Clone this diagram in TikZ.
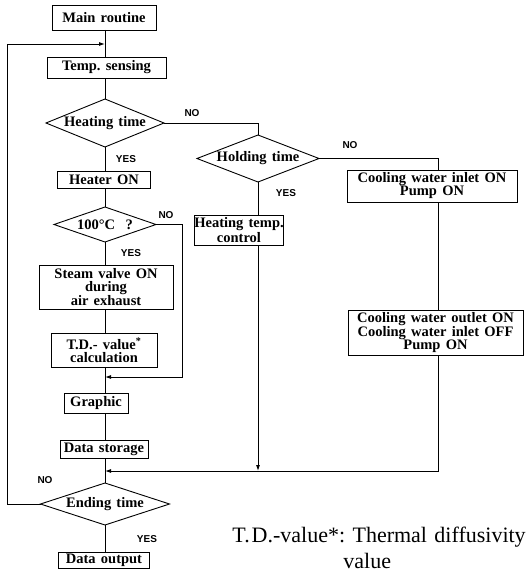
\documentclass[tikz,border=0pt]{standalone}
\usepackage{fontspec}
\setmainfont{Liberation Serif}
\newfontfamily\labfont{Liberation Sans}
\usetikzlibrary{shapes.geometric,arrows.meta}
\newcommand{\boxfont}{\bfseries\fontsize{14.5}{13}\selectfont\spaceskip=0.36em plus 0.1em\relax}
\begin{document}
\begin{tikzpicture}[x=1pt,y=-1pt,
  line width=0.9pt,
  box/.style={draw,rectangle,inner sep=0pt,outer sep=0pt,align=center,font=\boxfont},
  dia/.style={draw,diamond,inner sep=0pt,outer sep=0pt,font=\boxfont},
  yn/.style={font=\labfont\bfseries\fontsize{10}{10}\selectfont,inner sep=0pt},
  arr/.style={-{Latex[length=6pt,width=4pt]}}
]
\useasboundingbox (0,0) rectangle (527,586);
\coordinate (colx) at (105,0);
\coordinate (holdx) at (258,0);
\coordinate (coolx) at (438,0);

% left column
\node[box,minimum width=104pt,minimum height=25pt] (main) at (104,17.5) {Main routine};
\node[box,minimum width=119pt,minimum height=21pt] (temp) at (106.5,67.5) {Temp.\ sensing};
\node[dia,minimum width=118pt,minimum height=48pt] (heat) at (105,123) {\makebox[0pt]{Heating time}};
\node[box,minimum width=93pt,minimum height=17pt] (heater) at (104,179.5) {Heater ON};
\node[dia,minimum width=102pt,minimum height=35pt] (c100) at (105,224.5) {\makebox[0pt]{100°C\ \ ?}};
\node[box,minimum width=134pt,minimum height=44pt] (steam) at (106,287) {Steam valve ON\\during\\air exhaust};
\node[box,minimum width=106pt,minimum height=34pt] (tdcalc) at (104,350) {T.D.-\ value\textsuperscript{*}\\calculation};
\node[box,minimum width=64pt,minimum height=20pt] (graphic) at (96,403) {Graphic};
\node[box,minimum width=88pt,minimum height=18pt] (storage) at (104,449) {Data storage};
\node[dia,minimum width=129pt,minimum height=42pt] (ending) at (105,504) {\makebox[0pt]{Ending time}};
\node[box,minimum width=91pt,minimum height=16pt] (output) at (104,560) {Data output};

% middle and right columns
\node[dia,minimum width=122pt,minimum height=47pt] (hold) at (258,158.5) {\makebox[0pt]{Holding time}};
\node[box,minimum width=68pt,minimum height=30pt] (htc) at (239,230) {Heating temp.\\control};
\node[box,minimum width=170pt,minimum height=32pt] (cool1) at (432,186) {Cooling water inlet ON\\Pump ON};
\node[box,minimum width=175pt,minimum height=45pt] (cool2) at (435.5,332.5) {Cooling water outlet ON\\Cooling water inlet OFF\\Pump ON};

\coordinate (loop) at (105,44);
\coordinate (join1) at (105,377);
\coordinate (merge) at (105,471);

% connectors, main column
\draw (main.south -| colx) -- (temp.north -| colx);
\draw (temp.south -| colx) -- (heat.north);
\draw (heat.south) -- (heater.north -| colx);
\draw (heater.south -| colx) -- (c100.north);
\draw (c100.south) -- (steam.north -| colx);
\draw (steam.south -| colx) -- (tdcalc.north -| colx);
\draw (tdcalc.south -| colx) -- (graphic.north -| colx);
\draw (graphic.south -| colx) -- (storage.north -| colx);
\draw (storage.south -| colx) -- (ending.north);
\draw (ending.south) -- (output.north -| colx);
\draw[arr] (ending.west) -- ++(-33,0) |- (loop);
\draw[arr] (c100.east) -- ++(26,0) |- (join1);

% branches
\draw (heat.east) -| (hold.north);
\draw (hold.east) -| (cool1.north -| coolx);
\draw (hold.south) -- (htc.north -| holdx);
\draw[arr] (htc.south -| holdx) -- (merge -| holdx);
\draw (cool1.south -| coolx) -- (cool2.north -| coolx);
\draw[arr] (cool2.south -| coolx) |- (merge);

% labels
\node[yn] (l1) at (192,113) {NO};
\node[yn] (l2) at (126,159) {YES};
\node[yn] (l3) at (166,215) {NO};
\node[yn] (l4) at (131,253) {YES};
\node[yn] (l5) at (350,145) {NO};
\node[yn] (l6) at (286,193) {YES};
\node[yn] (l7) at (45,480) {NO};
\node[yn] (l8) at (147,539) {YES};

% footnote
\node[anchor=north west,inner sep=0pt,align=left,font=\fontsize{22}{26}\selectfont] (note) at (232,527)
  {\makebox[293pt][s]{T.\kern2pt D.-value*:\ \ Thermal\ \ diffusivity}\\\hspace*{111pt}value};
\end{tikzpicture}
\end{document}
